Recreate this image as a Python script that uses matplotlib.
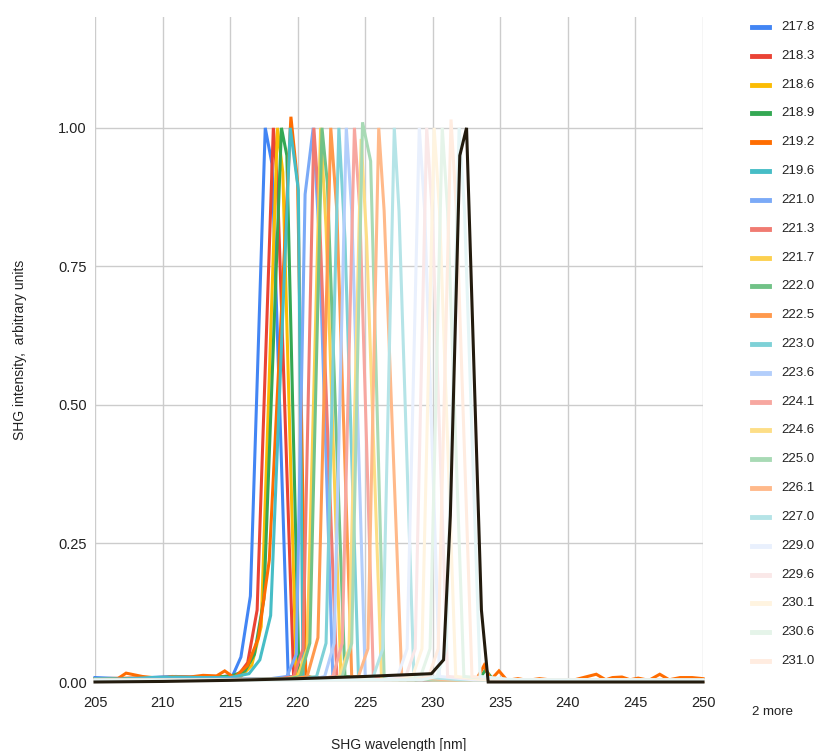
import matplotlib
matplotlib.use("Agg")
import matplotlib.pyplot as plt
from matplotlib.lines import Line2D

plt.rcParams['font.family'] = ['Liberation Sans', 'DejaVu Sans']

labels = ["217.8", "218.3", "218.6", "218.9", "219.2", "219.6",
          "221.0", "221.3", "221.7", "222.0", "222.5", "223.0",
          "223.6", "224.1", "224.6", "225.0", "226.1", "227.0",
          "229.0", "229.6", "230.1", "230.6", "231.0", "231.6", "232.5"]

colors = ["#4285F4", "#EA4335", "#FBBC04", "#34A853", "#FF6D01", "#46BDC6",
          "#7BAAF7", "#F07B72", "#FCD04F", "#71C287", "#FF994D", "#7ED1D7",
          "#B3CEFB", "#F7A7A0", "#FDDE87", "#A8DAB5", "#FFB98A", "#B5E4E7",
          "#E9F0FD", "#FAE8E8", "#FFF4E0", "#E5F4E9", "#FFECE0", "#E5F5F6",
          "#231B0E"]

x01 = [205, 207, 209, 211, 213, 214.6, 215.2, 215.8, 216.5, 217.6, 218.1, 219.3, 221, 225, 230, 240, 250]
y01 = [.008, .006, .008, .01, .007, .01, .012, .045, .155, 1.0, .935, .01, .005, .004, .003, .003, .003]

x02 = [205, 208, 211, 214, 215.6, 216.3, 217.0, 218.2, 218.5, 219.7, 222, 230, 250]
y02 = [.006, .007, .009, .009, .012, .035, .13, 1.0, .9, .01, .004, .003, .002]

x03 = [205, 209, 213, 215.8, 216.6, 217.3, 218.5, 218.9, 219.9, 223, 230, 250]
y03 = [.006, .007, .008, .01, .03, .1, 1.0, .92, .01, .004, .003, .002]

x04 = [205, 208, 212, 215, 216.1, 216.8, 217.5, 218.8, 219.2, 220.1, 224, 233.4, 233.9, 234.5, 250]
y04 = [.005, .006, .008, .01, .02, .05, .15, 1.0, .95, .01, .004, .003, .022, .003, .003]

x05 = [205, 206.5, 207.3, 208.5, 210, 210.7, 212, 213, 214, 214.6, 215.3, 216.3, 217.1, 217.9, 219.5,
       220.0, 220.6, 222, 226, 233.2, 233.8, 234.3, 234.9, 235.5, 236.3, 237, 237.9, 239, 240.5,
       242.1, 242.8, 243.3, 244, 244.6, 245.2, 246, 246.8, 247.5, 248.3, 249.2, 250]
y05 = [.004, .003, .016, .01, .006, .01, .009, .012, .011, .02, .008, .03, .08, .22, 1.02,
       .9, .01, .004, .003, .003, .03, .004, .02, .003, .006, .003, .006, .003, .004,
       .014, .004, .008, .009, .004, .007, .003, .014, .004, .008, .008, .006]

x06 = [205, 207, 209, 211, 213, 215, 216.4, 217.2, 218.0, 219.45, 220.05, 220.4, 221.2, 225, 235, 250]
y06 = [.006, .005, .008, .009, .008, .008, .015, .04, .12, 1.0, .888, .01, .005, .004, .003, .003]

x07 = [205, 212, 218, 219.2, 219.9, 220.55, 221.15, 221.6, 222.6, 226, 235, 250]
y07 = [.005, .005, .006, .01, .05, .88, 1.0, .8, .01, .004, .003, .003]

x08 = [205, 212, 218.5, 219.7, 220.4, 221.2, 221.6, 222.9, 226, 235, 250]
y08 = [.004, .004, .005, .01, .06, 1.0, .85, .01, .004, .003, .003]

x09 = [205, 212, 219, 220.0, 220.7, 221.7, 222.1, 223.2, 227, 235, 250]
y09 = [.004, .004, .005, .01, .06, 1.0, .82, .01, .004, .003, .003]

x10 = [205, 212, 219.2, 220.2, 220.9, 221.8, 222.2, 223.5, 227, 235, 250]
y10 = [.004, .004, .005, .01, .07, 1.0, .9, .01, .004, .003, .003]

x11 = [205, 212, 219.6, 220.7, 221.5, 222.45, 222.9, 224.0, 228, 235, 250]
y11 = [.004, .004, .005, .01, .08, 1.0, .85, .01, .004, .003, .003]

x12 = [205, 212, 220.3, 221.4, 222.1, 223.05, 223.5, 224.5, 228, 235, 250]
y12 = [.004, .004, .005, .01, .07, 1.0, .8, .01, .004, .003, .003]

x13 = [205, 214, 220.9, 222.0, 222.7, 223.6, 224.0, 225.0, 229, 235, 250]
y13 = [.003, .003, .004, .01, .07, 1.0, .85, .01, .004, .003, .003]

x14 = [205, 214, 221.5, 222.6, 223.3, 224.2, 224.6, 225.6, 229, 235, 250]
y14 = [.003, .003, .004, .01, .07, 1.0, .85, .01, .004, .003, .003]

x15 = [205, 214, 222.0, 223.1, 223.8, 224.7, 225.1, 226.2, 230, 235, 250]
y15 = [.003, .003, .004, .01, .06, .98, .8, .01, .004, .003, .003]

x16 = [205, 214, 222.2, 223.3, 224.0, 224.8, 225.4, 226.4, 230, 235, 250]
y16 = [.003, .003, .004, .01, .07, 1.01, .94, .01, .004, .003, .003]

x17 = [205, 215, 223.3, 224.5, 225.2, 226.0, 226.4, 227.7, 231, 235, 250]
y17 = [.003, .003, .004, .01, .06, 1.0, .85, .01, .004, .003, .003]

x18 = [205, 215, 224.5, 225.6, 226.3, 227.15, 227.5, 228.6, 232, 235, 250]
y18 = [.003, .003, .004, .01, .06, 1.0, .85, .01, .004, .003, .003]

x19 = [205, 216, 226.3, 227.4, 228.1, 229.0, 229.4, 230.5, 233, 250]
y19 = [.003, .003, .004, .01, .06, 1.0, .85, .01, .004, .003]

x20 = [205, 216, 226.9, 228.0, 228.7, 229.55, 229.95, 231.1, 234, 250]
y20 = [.003, .003, .004, .01, .06, 1.0, .85, .01, .004, .003]

x21 = [205, 216, 227.4, 228.5, 229.2, 230.1, 230.5, 231.7, 234, 250]
y21 = [.003, .003, .004, .01, .06, 1.0, .85, .01, .004, .003]

x22 = [205, 216, 228.0, 229.1, 229.8, 230.7, 231.1, 232.3, 235, 250]
y22 = [.003, .003, .004, .01, .06, 1.0, .85, .01, .004, .003]

x23 = [205, 216, 228.6, 229.7, 230.4, 231.35, 231.75, 232.9, 235, 250]
y23 = [.003, .003, .004, .01, .06, 1.015, .85, .01, .004, .003]

x24 = [205, 216, 229.2, 230.3, 231.0, 231.95, 232.35, 233.5, 236, 250]
y24 = [.003, .003, .004, .01, .06, 1.0, .85, .01, .004, .003]

x25 = [205, 210, 215, 220, 225, 229.9, 230.8, 231.3, 232.0, 232.5, 233.6, 234.1, 240, 250]
y25 = [.0, .001, .003, .006, .01, .015, .04, .30, .95, 1.0, .13, .0, .0, .0]

xs = [x01, x02, x03, x04, x05, x06, x07, x08, x09, x10, x11, x12, x13,
      x14, x15, x16, x17, x18, x19, x20, x21, x22, x23, x24, x25]
ys = [y01, y02, y03, y04, y05, y06, y07, y08, y09, y10, y11, y12, y13,
      y14, y15, y16, y17, y18, y19, y20, y21, y22, y23, y24, y25]

x_ticks = [205, 210, 215, 220, 225, 230, 235, 240, 245, 250]
y_ticks = [0.0, 0.25, 0.5, 0.75, 1.0]
y_ticklabels = ["0.00", "0.25", "0.50", "0.75", "1.00"]

W, H = 822, 751
fig = plt.figure(figsize=(W / 100, H / 100), dpi=100)
ax = fig.add_axes([95 / W, 1 - 682 / H, (703 - 95) / W, (682 - 17) / H])

for xv, yv, c in zip(xs, ys, colors):
    ax.plot(xv, yv, color=c, lw=2.2, solid_joinstyle='miter', clip_on=False)

ax.set_xlim(205, 250)
ax.set_ylim(0, 1.2)
ax.set_xticks(x_ticks)
ax.set_yticks(y_ticks)
ax.set_yticklabels(y_ticklabels)
ax.grid(True, color="#cccccc", lw=1)
ax.set_axisbelow(True)
for s in ax.spines.values():
    s.set_visible(False)
ax.tick_params(length=0, labelsize=10.5, labelcolor="#222222")
ax.tick_params(axis='y', pad=6)
ax.tick_params(axis='x', pad=10)
ax.set_xlabel("SHG wavelength [nm]", fontsize=10, color="#222222", labelpad=20)
ax.set_ylabel("SHG intensity,  arbitrary units", fontsize=10, color="#222222", labelpad=22)

# legend
for i in range(23):
    yy = 1 - (27 + i * 28.82) / H
    fig.add_artist(Line2D([752 / W, 769 / W], [yy, yy], color=colors[i], lw=3.5,
                          transform=fig.transFigure))
    fig.text(781 / W, yy, labels[i], va="center", ha="left", fontsize=9.5, color="#222222")
fig.text(752 / W, 1 - 712 / H, "2 more", va="center", ha="left", fontsize=9.5, color="#222222")

fig.savefig("out.png", dpi=100)
